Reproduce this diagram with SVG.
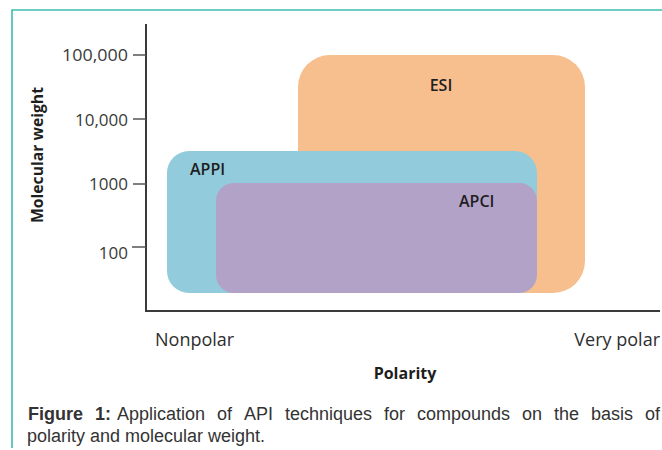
<svg xmlns="http://www.w3.org/2000/svg" width="662" height="450" viewBox="0 0 662 450">
<style>
.frame{fill:none;stroke:#3dbfae;stroke-width:1.6}
.axis{fill:none;stroke:#3a3a3a;stroke-width:2}
.tick{fill:none;stroke:#555;stroke-width:1.5}
.tl{font-family:"Open Sans","Liberation Sans",sans-serif;font-size:17px;fill:#3a3a3a;text-anchor:end}
.al{font-family:"Open Sans","Liberation Sans",sans-serif;font-size:18px;fill:#2e2e2e}
.ab{font-family:"Open Sans","Liberation Sans",sans-serif;font-size:16px;font-weight:bold;fill:#1e1e1e}
.nl{font-family:"Open Sans","Liberation Sans",sans-serif;font-size:16px;font-weight:600;fill:#1e1e1e}
.cap{font-family:"Liberation Sans",Arial,sans-serif;font-size:18px;fill:#333}
.capb{font-weight:bold}
</style>
<path class="frame" d="M662,10 H12 V448"/>
<g id="ESI">
<rect x="298" y="55" width="287" height="238" rx="32" fill="#f8bf8e"/>
<text class="nl" x="441" y="91" text-anchor="middle">ESI</text>
</g>
<g id="APPI">
<rect x="167" y="151" width="370" height="142" rx="22" fill="#92cbdc"/>
<text class="nl" x="190" y="175">APPI</text>
</g>
<g id="APCI">
<rect x="216" y="183" width="321" height="110" rx="18" fill="#b3a2c8"/>
<text class="nl" x="459" y="207">APCI</text>
</g>
<g id="axes">
<path class="axis" d="M146,24 V311 H660"/>
<path class="tick" d="M133,55 H146 M133,119 H146 M133,184 H146 M132,247 H146"/>
<text class="tl" x="128" y="61" textLength="66" lengthAdjust="spacingAndGlyphs">100,000</text>
<text class="tl" x="128" y="126">10,000</text>
<text class="tl" x="128" y="190">1000</text>
<text class="tl" x="128" y="259">100</text>
<text class="ab" transform="translate(43,155) rotate(-90)" text-anchor="middle" textLength="136" lengthAdjust="spacingAndGlyphs">Molecular weight</text>
<text class="al" x="155" y="346">Nonpolar</text>
<text class="al" x="660" y="346" text-anchor="end">Very polar</text>
<text class="ab" x="405" y="379" text-anchor="middle">Polarity</text>
</g>
<g id="caption">
<text class="cap capb" x="28" y="420">Figure <tspan x="111" text-anchor="end">1:</tspan></text>
<text class="cap" x="117" y="420">Application</text>
<text class="cap" x="217" y="420">of</text>
<text class="cap" x="244" y="420">API</text>
<text class="cap" x="285" y="420">techniques</text>
<text class="cap" x="384" y="420">for</text>
<text class="cap" x="417" y="420">compounds</text>
<text class="cap" x="522" y="420">on</text>
<text class="cap" x="554" y="420">the</text>
<text class="cap" x="591" y="420">basis</text>
<text class="cap" x="660" y="420" text-anchor="end">of</text>
<text class="cap" x="27" y="442">polarity and molecular weight.</text>
</g>
</svg>
